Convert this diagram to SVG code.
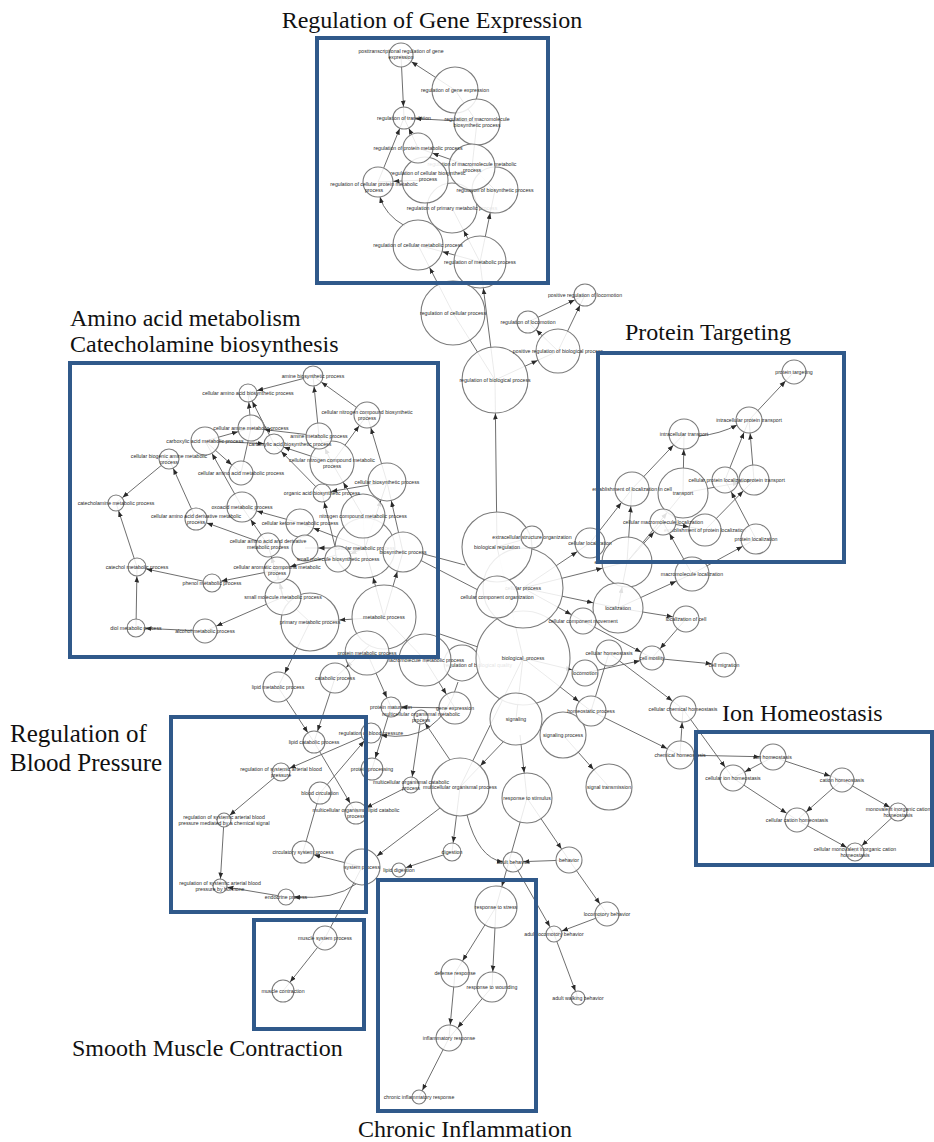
<svg xmlns="http://www.w3.org/2000/svg" width="934" height="1142" viewBox="0 0 934 1142">
<style>
.e{stroke:#5e5e5e;stroke-width:0.9;fill:none}
.n circle{fill:#fff;fill-opacity:0.86;stroke:#7c7c7c;stroke-width:1.1}
.n text{font-family:"Liberation Sans",Arial,sans-serif;font-size:5.2px;fill:#2a2a2a;text-anchor:middle}
.box{fill:none;stroke:#30598a;stroke-width:4}
.ttl{font-family:"Liberation Serif","Times New Roman",serif;font-size:24px;fill:#111}
.ah{fill:#2a2a2a}
.a0{marker-end:url(#a0)}.a7{marker-end:url(#a7)}.a8{marker-end:url(#a8)}.a9{marker-end:url(#a9)}.a10{marker-end:url(#a10)}
.a11{marker-end:url(#a11)}.a12{marker-end:url(#a12)}.a13{marker-end:url(#a13)}.a14{marker-end:url(#a14)}.a15{marker-end:url(#a15)}
.a16{marker-end:url(#a16)}.a17{marker-end:url(#a17)}.a19{marker-end:url(#a19)}.a20{marker-end:url(#a20)}.a21{marker-end:url(#a21)}
.a22{marker-end:url(#a22)}.a23{marker-end:url(#a23)}.a25{marker-end:url(#a25)}.a26{marker-end:url(#a26)}.a29{marker-end:url(#a29)}
.a30{marker-end:url(#a30)}.a33{marker-end:url(#a33)}
</style>
<defs>
<marker id="a0" markerWidth="7" markerHeight="6" refX="6" refY="3" orient="auto" markerUnits="userSpaceOnUse"><path class="ah" d="M0,0.6L6,3L0,5.4z"/></marker>
<marker id="a7" markerWidth="7" markerHeight="6" refX="13.5" refY="3" orient="auto" markerUnits="userSpaceOnUse"><path class="ah" d="M0,0.6L6,3L0,5.4z"/></marker>
<marker id="a8" markerWidth="7" markerHeight="6" refX="14.5" refY="3" orient="auto" markerUnits="userSpaceOnUse"><path class="ah" d="M0,0.6L6,3L0,5.4z"/></marker>
<marker id="a9" markerWidth="7" markerHeight="6" refX="15.5" refY="3" orient="auto" markerUnits="userSpaceOnUse"><path class="ah" d="M0,0.6L6,3L0,5.4z"/></marker>
<marker id="a10" markerWidth="7" markerHeight="6" refX="16.5" refY="3" orient="auto" markerUnits="userSpaceOnUse"><path class="ah" d="M0,0.6L6,3L0,5.4z"/></marker>
<marker id="a11" markerWidth="7" markerHeight="6" refX="17.5" refY="3" orient="auto" markerUnits="userSpaceOnUse"><path class="ah" d="M0,0.6L6,3L0,5.4z"/></marker>
<marker id="a12" markerWidth="7" markerHeight="6" refX="18.5" refY="3" orient="auto" markerUnits="userSpaceOnUse"><path class="ah" d="M0,0.6L6,3L0,5.4z"/></marker>
<marker id="a13" markerWidth="7" markerHeight="6" refX="19.5" refY="3" orient="auto" markerUnits="userSpaceOnUse"><path class="ah" d="M0,0.6L6,3L0,5.4z"/></marker>
<marker id="a14" markerWidth="7" markerHeight="6" refX="20.5" refY="3" orient="auto" markerUnits="userSpaceOnUse"><path class="ah" d="M0,0.6L6,3L0,5.4z"/></marker>
<marker id="a15" markerWidth="7" markerHeight="6" refX="21.5" refY="3" orient="auto" markerUnits="userSpaceOnUse"><path class="ah" d="M0,0.6L6,3L0,5.4z"/></marker>
<marker id="a16" markerWidth="7" markerHeight="6" refX="22.5" refY="3" orient="auto" markerUnits="userSpaceOnUse"><path class="ah" d="M0,0.6L6,3L0,5.4z"/></marker>
<marker id="a17" markerWidth="7" markerHeight="6" refX="23.5" refY="3" orient="auto" markerUnits="userSpaceOnUse"><path class="ah" d="M0,0.6L6,3L0,5.4z"/></marker>
<marker id="a19" markerWidth="7" markerHeight="6" refX="25.5" refY="3" orient="auto" markerUnits="userSpaceOnUse"><path class="ah" d="M0,0.6L6,3L0,5.4z"/></marker>
<marker id="a20" markerWidth="7" markerHeight="6" refX="26.5" refY="3" orient="auto" markerUnits="userSpaceOnUse"><path class="ah" d="M0,0.6L6,3L0,5.4z"/></marker>
<marker id="a21" markerWidth="7" markerHeight="6" refX="27.5" refY="3" orient="auto" markerUnits="userSpaceOnUse"><path class="ah" d="M0,0.6L6,3L0,5.4z"/></marker>
<marker id="a22" markerWidth="7" markerHeight="6" refX="28.5" refY="3" orient="auto" markerUnits="userSpaceOnUse"><path class="ah" d="M0,0.6L6,3L0,5.4z"/></marker>
<marker id="a23" markerWidth="7" markerHeight="6" refX="29.5" refY="3" orient="auto" markerUnits="userSpaceOnUse"><path class="ah" d="M0,0.6L6,3L0,5.4z"/></marker>
<marker id="a25" markerWidth="7" markerHeight="6" refX="31.5" refY="3" orient="auto" markerUnits="userSpaceOnUse"><path class="ah" d="M0,0.6L6,3L0,5.4z"/></marker>
<marker id="a26" markerWidth="7" markerHeight="6" refX="32.5" refY="3" orient="auto" markerUnits="userSpaceOnUse"><path class="ah" d="M0,0.6L6,3L0,5.4z"/></marker>
<marker id="a29" markerWidth="7" markerHeight="6" refX="35.5" refY="3" orient="auto" markerUnits="userSpaceOnUse"><path class="ah" d="M0,0.6L6,3L0,5.4z"/></marker>
<marker id="a30" markerWidth="7" markerHeight="6" refX="36.5" refY="3" orient="auto" markerUnits="userSpaceOnUse"><path class="ah" d="M0,0.6L6,3L0,5.4z"/></marker>
<marker id="a33" markerWidth="7" markerHeight="6" refX="39.5" refY="3" orient="auto" markerUnits="userSpaceOnUse"><path class="ah" d="M0,0.6L6,3L0,5.4z"/></marker>
</defs>
<rect width="934" height="1142" fill="#fff"/>

<g id="connectors">
<line class="e a12" x1="455" y1="90" x2="401" y2="55"/>
<line class="e a11" x1="401" y1="55" x2="404" y2="118"/>
<line class="e a11" x1="477" y1="122" x2="404" y2="118"/>
<line class="e a11" x1="418" y1="148" x2="404" y2="118"/>
<line class="e a11" x1="378" y1="182" x2="404" y2="118"/>
<line class="e a15" x1="472" y1="167" x2="418" y2="148"/>
<line class="e a15" x1="425" y1="180" x2="378" y2="182"/>
<path class="e a0" d="M405,226 Q385,215 380,197"/>
<line class="e a25" x1="480" y1="262" x2="418" y2="245"/>
<line class="e a23" x1="480" y1="262" x2="495" y2="190"/>
<line class="e a25" x1="480" y1="262" x2="452" y2="208"/>
<line class="e a25" x1="453" y1="313" x2="418" y2="245"/>
<line class="e a26" x1="495" y1="380" x2="480" y2="262"/>
<line class="e" x1="495" y1="380" x2="453" y2="313"/>
<line class="e a22" x1="495" y1="380" x2="558" y2="351"/>
<line class="e a11" x1="558" y1="351" x2="528" y2="322"/>
<line class="e a11" x1="528" y1="322" x2="585" y2="295"/>
<line class="e a11" x1="558" y1="351" x2="585" y2="295"/>
<line class="e a33" x1="497" y1="547" x2="495" y2="380"/>
<line class="e" x1="472" y1="167" x2="477" y2="122"/>
<line class="e" x1="472" y1="167" x2="495" y2="190"/>
<line class="e" x1="455" y1="90" x2="477" y2="122"/>

<line class="e a12" x1="749" y1="420" x2="794" y2="372"/>
<path class="e a0" d="M699,436 Q720,434 737,425"/>
<line class="e a15" x1="683" y1="493" x2="684" y2="434"/>
<line class="e a15" x1="632" y1="489" x2="684" y2="434"/>
<line class="e a13" x1="725" y1="480" x2="749" y2="420"/>
<line class="e a13" x1="754" y1="480" x2="749" y2="420"/>
<line class="e a15" x1="683" y1="493" x2="754" y2="480"/>
<line class="e a15" x1="705" y1="530" x2="754" y2="480"/>
<line class="e a13" x1="756" y1="539" x2="725" y2="480"/>
<line class="e a16" x1="663" y1="522" x2="705" y2="530"/>
<line class="e a17" x1="627" y1="562" x2="632" y2="489"/>
<line class="e a25" x1="627" y1="562" x2="683" y2="493"/>
<line class="e a13" x1="627" y1="562" x2="663" y2="522"/>
<line class="e a17" x1="590" y1="543" x2="632" y2="489"/>
<line class="e a15" x1="692" y1="574" x2="756" y2="539"/>
<line class="e a13" x1="692" y1="574" x2="663" y2="522"/>
<line class="e a25" x1="618" y1="608" x2="627" y2="562"/>
<line class="e a17" x1="618" y1="608" x2="692" y2="574"/>
<line class="e a13" x1="618" y1="608" x2="686" y2="619"/>
<line class="e a12" x1="686" y1="619" x2="652" y2="658"/>
<line class="e a12" x1="583" y1="621" x2="652" y2="658"/>
<line class="e a12" x1="585" y1="673" x2="652" y2="658"/>
<line class="e a12" x1="652" y1="658" x2="724" y2="665"/>
<line class="e a13" x1="609" y1="653" x2="683" y2="709"/>
<line class="e" x1="591" y1="711" x2="609" y2="653"/>
<line class="e a14" x1="591" y1="711" x2="680" y2="755"/>
<line class="e a13" x1="680" y1="755" x2="683" y2="709"/>
<line class="e a13" x1="683" y1="709" x2="733" y2="778"/>
<line class="e a13" x1="680" y1="755" x2="773" y2="757"/>
<line class="e a13" x1="773" y1="757" x2="733" y2="778"/>
<line class="e a12" x1="773" y1="757" x2="842" y2="780"/>
<line class="e a12" x1="733" y1="778" x2="797" y2="820"/>
<line class="e a12" x1="842" y1="780" x2="797" y2="820"/>
<line class="e a9" x1="842" y1="780" x2="898" y2="812"/>
<line class="e a9" x1="797" y1="820" x2="855" y2="852"/>
<line class="e a9" x1="898" y1="812" x2="855" y2="852"/>
<line class="e a23" x1="563" y1="735" x2="609" y2="787"/>
<line class="e a13" x1="523" y1="658" x2="585" y2="673"/>
<line class="e a15" x1="523" y1="658" x2="591" y2="711"/>
<line class="e" x1="523" y1="658" x2="516" y2="719"/>
<line class="e a25" x1="523" y1="588" x2="618" y2="608"/>
<line class="e a25" x1="523" y1="588" x2="627" y2="562"/>
<line class="e a15" x1="523" y1="588" x2="590" y2="543"/>
<line class="e a13" x1="523" y1="588" x2="583" y2="621"/>
<line class="e" x1="497" y1="547" x2="532" y2="537"/>
<line class="e a25" x1="520" y1="735" x2="527" y2="798"/>
<line class="e a29" x1="505" y1="740" x2="460" y2="787"/>
<line class="e a13" x1="527" y1="798" x2="569" y2="860"/>
<line class="e a10" x1="569" y1="860" x2="513" y2="862"/>
<path class="e a0" d="M467,815 Q478,858 503,862"/>
<line class="e a9" x1="460" y1="787" x2="452" y2="852"/>
<line class="e a7" x1="452" y1="852" x2="399" y2="870"/>
<line class="e a0" x1="440" y1="808" x2="377" y2="856"/>
<line class="e a7" x1="450" y1="760" x2="421" y2="717"/>
<line class="e a8" x1="421" y1="717" x2="411" y2="785"/>
<line class="e a11" x1="411" y1="785" x2="356" y2="813"/>
<line class="e a11" x1="314" y1="742" x2="356" y2="813"/>
<line class="e a11" x1="278" y1="687" x2="314" y2="742"/>
<line class="e a11" x1="335" y1="678" x2="314" y2="742"/>
<line class="e a15" x1="310" y1="622" x2="278" y2="687"/>
<line class="e a15" x1="375" y1="640" x2="335" y2="678"/>
<line class="e a10" x1="367" y1="653" x2="391" y2="707"/>
<line class="e a10" x1="455" y1="708" x2="391" y2="707"/>
<line class="e a11" x1="391" y1="707" x2="372" y2="769"/>
<line class="e a16" x1="425" y1="660" x2="455" y2="708"/>
<line class="e a10" x1="320" y1="793" x2="371" y2="733"/>
<line class="e" x1="303" y1="852" x2="320" y2="793"/>
<line class="e a11" x1="362" y1="867" x2="303" y2="852"/>
<path class="e a0" d="M356,884 Q335,900 294,897"/>
<line class="e a7" x1="286" y1="897" x2="220" y2="886"/>
<line class="e a9" x1="371" y1="733" x2="281" y2="772"/>
<line class="e a7" x1="281" y1="772" x2="224" y2="820"/>
<line class="e a7" x1="224" y1="820" x2="220" y2="886"/>
<line class="e" x1="362" y1="867" x2="325" y2="938"/>
<line class="e a11" x1="325" y1="938" x2="283" y2="991"/>
<path class="e a0" d="M458,682 Q440,745 381,735"/>
<line class="e a21" x1="527" y1="798" x2="496" y2="907"/>
<line class="e a8" x1="513" y1="862" x2="554" y2="934"/>
<line class="e a8" x1="607" y1="914" x2="554" y2="934"/>
<line class="e a12" x1="569" y1="860" x2="607" y2="914"/>
<line class="e a7" x1="554" y1="934" x2="578" y2="998"/>
<line class="e a14" x1="496" y1="907" x2="455" y2="973"/>
<line class="e a15" x1="496" y1="907" x2="492" y2="987"/>
<line class="e a13" x1="455" y1="973" x2="449" y2="1038"/>
<line class="e a13" x1="492" y1="987" x2="449" y2="1038"/>
<line class="e a7" x1="449" y1="1038" x2="419" y2="1097"/>
<line class="e" x1="523" y1="658" x2="497" y2="547"/>
<line class="e" x1="523" y1="658" x2="460" y2="787"/>
<line class="e" x1="437" y1="633" x2="478" y2="647"/>
<line class="e" x1="420" y1="560" x2="478" y2="590"/>
<line class="e" x1="420" y1="553" x2="465" y2="565"/>

<line class="e a9" x1="313" y1="376" x2="248" y2="393"/>
<line class="e a10" x1="367" y1="415" x2="313" y2="376"/>
<line class="e a10" x1="319" y1="436" x2="313" y2="376"/>
<line class="e a9" x1="251" y1="428" x2="248" y2="393"/>
<line class="e a9" x1="274" y1="444" x2="248" y2="393"/>
<line class="e a13" x1="319" y1="436" x2="251" y2="428"/>
<line class="e a10" x1="332" y1="463" x2="274" y2="444"/>
<line class="e a13" x1="332" y1="463" x2="367" y2="415"/>
<line class="e a13" x1="332" y1="463" x2="319" y2="436"/>
<line class="e a13" x1="387" y1="482" x2="367" y2="415"/>
<line class="e a10" x1="322" y1="493" x2="274" y2="444"/>
<line class="e a9" x1="387" y1="482" x2="322" y2="493"/>
<line class="e a22" x1="363" y1="516" x2="332" y2="463"/>
<line class="e a9" x1="338" y1="559" x2="322" y2="493"/>
<line class="e a13" x1="205" y1="441" x2="251" y2="428"/>
<line class="e a10" x1="205" y1="441" x2="274" y2="444"/>
<line class="e a12" x1="205" y1="441" x2="241" y2="473"/>
<line class="e" x1="251" y1="428" x2="241" y2="473"/>
<line class="e a14" x1="242" y1="507" x2="205" y2="441"/>
<line class="e a8" x1="169" y1="459" x2="116" y2="503"/>
<line class="e a10" x1="196" y1="519" x2="169" y2="459"/>
<line class="e a8" x1="137" y1="567" x2="116" y2="503"/>
<line class="e a9" x1="136" y1="628" x2="137" y2="567"/>
<line class="e a9" x1="205" y1="631" x2="136" y2="628"/>
<line class="e a12" x1="283" y1="597" x2="205" y2="631"/>
<line class="e a9" x1="212" y1="583" x2="137" y2="567"/>
<line class="e a9" x1="277" y1="570" x2="212" y2="583"/>
<line class="e a11" x1="268" y1="545" x2="196" y2="519"/>
<line class="e a15" x1="300" y1="523" x2="242" y2="507"/>
<line class="e a15" x1="268" y1="545" x2="242" y2="507"/>
<line class="e a12" x1="283" y1="597" x2="268" y2="545"/>
<line class="e a13" x1="283" y1="597" x2="277" y2="570"/>
<line class="e a13" x1="365" y1="548" x2="277" y2="570"/>
<line class="e a13" x1="365" y1="548" x2="338" y2="559"/>
<line class="e a14" x1="365" y1="548" x2="300" y2="523"/>
<line class="e a19" x1="365" y1="548" x2="387" y2="482"/>
<line class="e a19" x1="403" y1="552" x2="387" y2="482"/>
<line class="e a30" x1="384" y1="617" x2="365" y2="548"/>
<line class="e a20" x1="384" y1="617" x2="403" y2="552"/>
<line class="e a29" x1="384" y1="617" x2="310" y2="622"/>
<line class="e a13" x1="365" y1="548" x2="305" y2="548"/>
<line class="e" x1="365" y1="548" x2="363" y2="516"/>
<line class="e" x1="310" y1="622" x2="283" y2="597"/>
<line class="e" x1="384" y1="617" x2="425" y2="660"/>
</g>

<g id="n-rbq" class="n"><circle cx="462" cy="663" r="18"/><text x="478" y="667">regulation of biological quality</text></g>
<g id="n-bp" class="n"><circle cx="523" cy="658" r="47"/><text x="523" y="660">biological_process</text></g>
<g id="n-cp" class="n"><circle cx="523" cy="588" r="40"/><text x="523" y="590">cellular process</text></g>
<g id="n-bioreg" class="n"><circle cx="497" cy="547" r="35"/><text x="497" y="549">biological regulation</text></g>
<g id="n-rbiop" class="n"><circle cx="495" cy="380" r="33"/><text x="495" y="382">regulation of biological process</text></g>
<g id="n-rcp" class="n"><circle cx="453" cy="313" r="32"/><text x="453" y="315">regulation of cellular process</text></g>
<g id="n-mp" class="n"><circle cx="384" cy="617" r="32"/><text x="384" y="619">metabolic process</text></g>
<g id="n-cmp" class="n"><circle cx="365" cy="548" r="30"/><text x="365" y="550">cellular metabolic process</text></g>
<g id="n-pmp" class="n"><circle cx="310" cy="622" r="29"/><text x="310" y="624">primary metabolic process</text></g>
<g id="n-mop" class="n"><circle cx="460" cy="787" r="29"/><text x="460" y="789">multicellular organismal process</text></g>
<g id="n-ccmmp" class="n"><circle cx="425" cy="660" r="26"/><text x="425" y="662">macromolecule metabolic process</text></g>
<g id="n-rmp" class="n"><circle cx="480" cy="262" r="26"/><text x="480" y="264">regulation of metabolic process</text></g>
<g id="n-sig" class="n"><circle cx="516" cy="719" r="26"/><text x="516" y="721">signaling</text></g>
<g id="n-rcmp" class="n"><circle cx="418" cy="245" r="25"/><text x="418" y="247">regulation of cellular metabolic process</text></g>
<g id="n-rprmp" class="n"><circle cx="452" cy="208" r="25"/><text x="452" y="210">regulation of primary metabolic process</text></g>
<g id="n-tr" class="n"><circle cx="683" cy="493" r="25"/><text x="683" y="495">transport</text></g>
<g id="n-eol" class="n"><circle cx="627" cy="562" r="25"/><text x="627" y="564">establishment of localization</text></g>
<g id="n-loc" class="n"><circle cx="618" cy="608" r="25"/><text x="618" y="610">localization</text></g>
<g id="n-rs" class="n"><circle cx="527" cy="798" r="25"/><text x="527" y="800">response to stimulus</text></g>
<g id="n-rge" class="n"><circle cx="455" cy="90" r="23"/><text x="455" y="92">regulation of gene expression</text></g>
<g id="n-rmbp" class="n"><circle cx="477" cy="122" r="23"/><text x="477" y="121">regulation of macromolecule<tspan x="477" dy="6">biosynthetic process</tspan></text></g>
<g id="n-rbp" class="n"><circle cx="495" cy="190" r="23"/><text x="495" y="192">regulation of biosynthetic process</text></g>
<g id="n-rmmp" class="n"><circle cx="472" cy="167" r="23"/><text x="472" y="166">regulation of macromolecule metabolic<tspan x="472" dy="6">process</tspan></text></g>
<g id="n-rcbp" class="n"><circle cx="425" cy="180" r="23"/><text x="428" y="175">regulation of cellular biosynthetic<tspan x="428" dy="6">process</tspan></text></g>
<g id="n-sigp" class="n"><circle cx="563" cy="735" r="23"/><text x="563" y="737">signaling process</text></g>
<g id="n-st" class="n"><circle cx="609" cy="787" r="23"/><text x="609" y="789">signal transmission</text></g>
<g id="n-prbp" class="n"><circle cx="558" cy="351" r="22"/><text x="558" y="353">positive regulation of biological process</text></g>
<g id="n-cncmp" class="n"><circle cx="332" cy="463" r="22"/><text x="332" y="462">cellular nitrogen compound metabolic<tspan x="332" dy="6">process</tspan></text></g>
<g id="n-ncmp" class="n"><circle cx="363" cy="516" r="22"/><text x="363" y="518">nitrogen compound metabolic process</text></g>
<g id="n-mmp" class="n"><circle cx="367" cy="653" r="22"/><text x="367" y="655">protein metabolic process</text></g>
<g id="n-cco" class="n"><circle cx="497" cy="597" r="21"/><text x="497" y="599">cellular component organization</text></g>
<g id="n-rst" class="n"><circle cx="496" cy="907" r="21"/><text x="496" y="909">response to stress</text></g>
<g id="n-bsp" class="n"><circle cx="403" cy="552" r="20"/><text x="403" y="554">biosynthetic process</text></g>
<g id="n-cbp" class="n"><circle cx="387" cy="482" r="19"/><text x="387" y="484">cellular biosynthetic process</text></g>
<g id="n-smm" class="n"><circle cx="283" cy="597" r="18"/><text x="283" y="599">small molecule metabolic process</text></g>
<g id="n-sp" class="n"><circle cx="362" cy="867" r="18"/><text x="362" y="869">system process</text></g>
<g id="n-elc" class="n"><circle cx="632" cy="489" r="17"/><text x="632" y="491">establishment of localization in cell</text></g>
<g id="n-ml" class="n"><circle cx="692" cy="574" r="17"/><text x="692" y="576">macromolecule localization</text></g>
<g id="n-epl" class="n"><circle cx="705" cy="530" r="16"/><text x="705" y="532">establishment of protein localization</text></g>
<g id="n-ge" class="n"><circle cx="455" cy="708" r="16"/><text x="455" y="710">gene expression</text></g>
<g id="n-rpmp" class="n"><circle cx="418" cy="148" r="15"/><text x="418" y="150">regulation of protein metabolic process</text></g>
<g id="n-rcpmp" class="n"><circle cx="378" cy="182" r="15"/><text x="374" y="186">regulation of cellular protein metabolic<tspan x="374" dy="6">process</tspan></text></g>
<g id="n-cloc" class="n"><circle cx="590" cy="543" r="15"/><text x="590" y="545">cellular localization</text></g>
<g id="n-it" class="n"><circle cx="684" cy="434" r="15"/><text x="684" y="436">intracellular transport</text></g>
<g id="n-ptr" class="n"><circle cx="754" cy="480" r="15"/><text x="766" y="482">protein transport</text></g>
<g id="n-pl" class="n"><circle cx="756" cy="539" r="15"/><text x="756" y="541">protein localization</text></g>
<g id="n-hp" class="n"><circle cx="591" cy="711" r="15"/><text x="591" y="713">homeostatic process</text></g>
<g id="n-oxo" class="n"><circle cx="242" cy="507" r="15"/><text x="242" y="509">oxoacid metabolic process</text></g>
<g id="n-lmp" class="n"><circle cx="278" cy="687" r="15"/><text x="278" y="689">lipid metabolic process</text></g>
<g id="n-catp" class="n"><circle cx="335" cy="678" r="15"/><text x="335" y="680">catabolic process</text></g>
<g id="n-rw" class="n"><circle cx="492" cy="987" r="15"/><text x="492" y="989">response to wounding</text></g>
<g id="n-cxm" class="n"><circle cx="205" cy="441" r="14"/><text x="205" y="443">carboxylic acid metabolic process</text></g>
<g id="n-ckm" class="n"><circle cx="300" cy="523" r="14"/><text x="300" y="525">cellular ketone metabolic process</text></g>
<g id="n-chh" class="n"><circle cx="680" cy="755" r="14"/><text x="680" y="757">chemical homeostasis</text></g>
<g id="n-dr" class="n"><circle cx="455" cy="973" r="14"/><text x="455" y="975">defense response</text></g>
<g id="n-cpl" class="n"><circle cx="725" cy="480" r="13"/><text x="719" y="482">cellular protein localization</text></g>
<g id="n-ipt" class="n"><circle cx="749" cy="420" r="13"/><text x="749" y="422">intracellular protein transport</text></g>
<g id="n-cml" class="n"><circle cx="663" cy="522" r="13"/><text x="663" y="524">cellular macromolecule localization</text></g>
<g id="n-lcell" class="n"><circle cx="686" cy="619" r="13"/><text x="686" y="621">localization of cell</text></g>
<g id="n-ccm" class="n"><circle cx="583" cy="621" r="13"/><text x="583" y="623">cellular component movement</text></g>
<g id="n-ch" class="n"><circle cx="609" cy="653" r="13"/><text x="609" y="655">cellular homeostasis</text></g>
<g id="n-lcm" class="n"><circle cx="585" cy="673" r="13"/><text x="585" y="675">locomotion</text></g>
<g id="n-cch" class="n"><circle cx="683" cy="709" r="13"/><text x="683" y="711">cellular chemical homeostasis</text></g>
<g id="n-ih" class="n"><circle cx="773" cy="757" r="13"/><text x="773" y="759">ion homeostasis</text></g>
<g id="n-cih" class="n"><circle cx="733" cy="778" r="13"/><text x="733" y="780">cellular ion homeostasis</text></g>
<g id="n-ir" class="n"><circle cx="449" cy="1038" r="13"/><text x="449" y="1040">inflammatory response</text></g>
<g id="n-beh" class="n"><circle cx="569" cy="860" r="13"/><text x="569" y="862">behavior</text></g>
<g id="n-camp" class="n"><circle cx="251" cy="428" r="13"/><text x="251" y="430">cellular amine metabolic process</text></g>
<g id="n-amp" class="n"><circle cx="319" cy="436" r="13"/><text x="319" y="438">amine metabolic process</text></g>
<g id="n-cncbp" class="n"><circle cx="367" cy="415" r="13"/><text x="367" y="414">cellular nitrogen compound biosynthetic<tspan x="367" dy="6">process</tspan></text></g>
<g id="n-aadm" class="n"><circle cx="305" cy="548" r="13"/></g>
<g id="n-smbp" class="n"><circle cx="338" cy="559" r="13"/><text x="338" y="561">small molecule biosynthetic process</text></g>
<g id="n-cacm" class="n"><circle cx="277" cy="570" r="13"/><text x="277" y="569">cellular aromatic compound metabolic<tspan x="277" dy="6">process</tspan></text></g>
<g id="n-pt" class="n"><circle cx="794" cy="372" r="12"/><text x="794" y="374">protein targeting</text></g>
<g id="n-ptgr" class="n"><circle cx="401" cy="55" r="12"/><text x="401" y="53">posttranscriptional regulation of gene<tspan x="401" dy="6">expression</tspan></text></g>
<g id="n-cm" class="n"><circle cx="652" cy="658" r="12"/><text x="652" y="660">cell motility</text></g>
<g id="n-cmig" class="n"><circle cx="724" cy="665" r="12"/><text x="724" y="667">cell migration</text></g>
<g id="n-cath" class="n"><circle cx="842" cy="780" r="12"/><text x="842" y="782">cation homeostasis</text></g>
<g id="n-ccath" class="n"><circle cx="797" cy="820" r="12"/><text x="797" y="822">cellular cation homeostasis</text></g>
<g id="n-caam" class="n"><circle cx="241" cy="473" r="12"/><text x="241" y="475">cellular amino acid metabolic process</text></g>
<g id="n-caad" class="n"><circle cx="268" cy="545" r="12"/><text x="268" y="543">cellular amino acid and derivative<tspan x="268" dy="6">metabolic process</tspan></text></g>
<g id="n-alc" class="n"><circle cx="205" cy="631" r="12"/><text x="205" y="633">alcohol metabolic process</text></g>
<g id="n-msp" class="n"><circle cx="325" cy="938" r="12"/><text x="325" y="940">muscle system process</text></g>
<g id="n-rtl" class="n"><circle cx="404" cy="118" r="11"/><text x="404" y="120">regulation of translation</text></g>
<g id="n-rl" class="n"><circle cx="528" cy="322" r="11"/><text x="528" y="324">regulation of locomotion</text></g>
<g id="n-prl" class="n"><circle cx="585" cy="295" r="11"/><text x="585" y="297">positive regulation of locomotion</text></g>
<g id="n-eso" class="n"><circle cx="532" cy="537" r="11"/><text x="532" y="539">extracellular structure organization</text></g>
<g id="n-caadm" class="n"><circle cx="196" cy="519" r="11"/><text x="196" y="518">cellular amino acid derivative metabolic<tspan x="196" dy="6">process</tspan></text></g>
<g id="n-lcp" class="n"><circle cx="314" cy="742" r="11"/><text x="314" y="744">lipid catabolic process</text></g>
<g id="n-pp" class="n"><circle cx="372" cy="769" r="11"/><text x="372" y="771">protein processing</text></g>
<g id="n-bc" class="n"><circle cx="320" cy="793" r="11"/><text x="320" y="795">blood circulation</text></g>
<g id="n-molcp" class="n"><circle cx="356" cy="813" r="11"/><text x="356" y="812">multicellular organismal lipid catabolic<tspan x="356" dy="6">process</tspan></text></g>
<g id="n-csp" class="n"><circle cx="303" cy="852" r="11"/><text x="303" y="854">circulatory system process</text></g>
<g id="n-mc" class="n"><circle cx="283" cy="991" r="11"/><text x="283" y="993">muscle contraction</text></g>
<g id="n-abp" class="n"><circle cx="313" cy="376" r="10"/><text x="313" y="378">amine biosynthetic process</text></g>
<g id="n-cabp" class="n"><circle cx="274" cy="444" r="10"/><text x="290" y="446">carboxylic acid biosynthetic process</text></g>
<g id="n-cbam" class="n"><circle cx="169" cy="459" r="10"/><text x="169" y="458">cellular biogenic amine metabolic<tspan x="169" dy="6">process</tspan></text></g>
<g id="n-rbpr" class="n"><circle cx="371" cy="733" r="10"/><text x="371" y="735">regulation of blood pressure</text></g>
<g id="n-pm" class="n"><circle cx="391" cy="707" r="10"/><text x="391" y="709">protein maturation</text></g>
<g id="n-ab" class="n"><circle cx="513" cy="862" r="10"/><text x="513" y="864">adult behavior</text></g>
<g id="n-aabp" class="n"><circle cx="248" cy="393" r="9"/><text x="248" y="395">cellular amino acid biosynthetic process</text></g>
<g id="n-oabp" class="n"><circle cx="322" cy="493" r="9"/><text x="322" y="495">organic acid biosynthetic process</text></g>
<g id="n-catc" class="n"><circle cx="137" cy="567" r="9"/><text x="137" y="569">catechol metabolic process</text></g>
<g id="n-phm" class="n"><circle cx="212" cy="583" r="9"/><text x="212" y="585">phenol metabolic process</text></g>
<g id="n-diol" class="n"><circle cx="136" cy="628" r="9"/><text x="136" y="630">diol metabolic process</text></g>
<g id="n-rsabp" class="n"><circle cx="281" cy="772" r="9"/><text x="281" y="771">regulation of systemic arterial blood<tspan x="281" dy="6">pressure</tspan></text></g>
<g id="n-dig" class="n"><circle cx="452" cy="852" r="9"/><text x="452" y="854">digestion</text></g>
<g id="n-mich" class="n"><circle cx="898" cy="812" r="9"/><text x="898" y="811">monovalent inorganic cation<tspan x="898" dy="6">homeostasis</tspan></text></g>
<g id="n-cmich" class="n"><circle cx="855" cy="852" r="9"/><text x="855" y="851">cellular monovalent inorganic cation<tspan x="855" dy="6">homeostasis</tspan></text></g>
<g id="n-catm" class="n"><circle cx="116" cy="503" r="8"/><text x="116" y="505">catecholamine metabolic process</text></g>
<g id="n-mocp" class="n"><circle cx="411" cy="785" r="8"/><text x="411" y="784">multicellular organismal catabolic<tspan x="411" dy="6">process</tspan></text></g>
<g id="n-endo" class="n"><circle cx="286" cy="897" r="8"/><text x="286" y="899">endocrine process</text></g>
<g id="n-alb" class="n"><circle cx="554" cy="934" r="8"/><text x="554" y="936">adult locomotory behavior</text></g>
<g id="n-lb" class="n"><circle cx="607" cy="914" r="12"/><text x="607" y="916">locomotory behavior</text></g>
<g id="n-mop2" class="n"><circle cx="421" cy="717" r="7"/><text x="421" y="716">multicellular organismal metabolic<tspan x="421" dy="6">process</tspan></text></g>
<g id="n-rsabpc" class="n"><circle cx="224" cy="820" r="7"/><text x="224" y="819">regulation of systemic arterial blood<tspan x="224" dy="6">pressure mediated by a chemical signal</tspan></text></g>
<g id="n-rsabph" class="n"><circle cx="220" cy="886" r="7"/><text x="220" y="885">regulation of systemic arterial blood<tspan x="220" dy="6">pressure by hormone</tspan></text></g>
<g id="n-ld" class="n"><circle cx="399" cy="870" r="7"/><text x="399" y="872">lipid digestion</text></g>
<g id="n-awb" class="n"><circle cx="578" cy="998" r="7"/><text x="578" y="1000">adult walking behavior</text></g>
<g id="n-cir" class="n"><circle cx="419" cy="1097" r="7"/><text x="419" y="1099">chronic inflammatory response</text></g>

<g id="boxes">
<rect class="box" x="317" y="38" width="231" height="245"/>
<rect class="box" x="70" y="363" width="368" height="294"/>
<rect class="box" x="598" y="353" width="246" height="209"/>
<rect class="box" x="171" y="717" width="195" height="195"/>
<rect class="box" x="696" y="732" width="236" height="133"/>
<rect class="box" x="254" y="920" width="110" height="109"/>
<rect class="box" x="378" y="880" width="158" height="231"/>
</g>
<g id="titles">
<text class="ttl" x="432" y="28" text-anchor="middle">Regulation of Gene Expression</text>
<text class="ttl" x="70" y="326">Amino acid metabolism</text>
<text class="ttl" x="70" y="352">Catecholamine biosynthesis</text>
<text class="ttl" x="625" y="340">Protein Targeting</text>
<text class="ttl" x="10" y="742" style="font-size:25px">Regulation of</text>
<text class="ttl" x="10" y="771" style="font-size:25px">Blood Pressure</text>
<text class="ttl" x="722" y="721">Ion Homeostasis</text>
<text class="ttl" x="72" y="1056">Smooth Muscle Contraction</text>
<text class="ttl" x="358" y="1137">Chronic Inflammation</text>
</g>
</svg>
